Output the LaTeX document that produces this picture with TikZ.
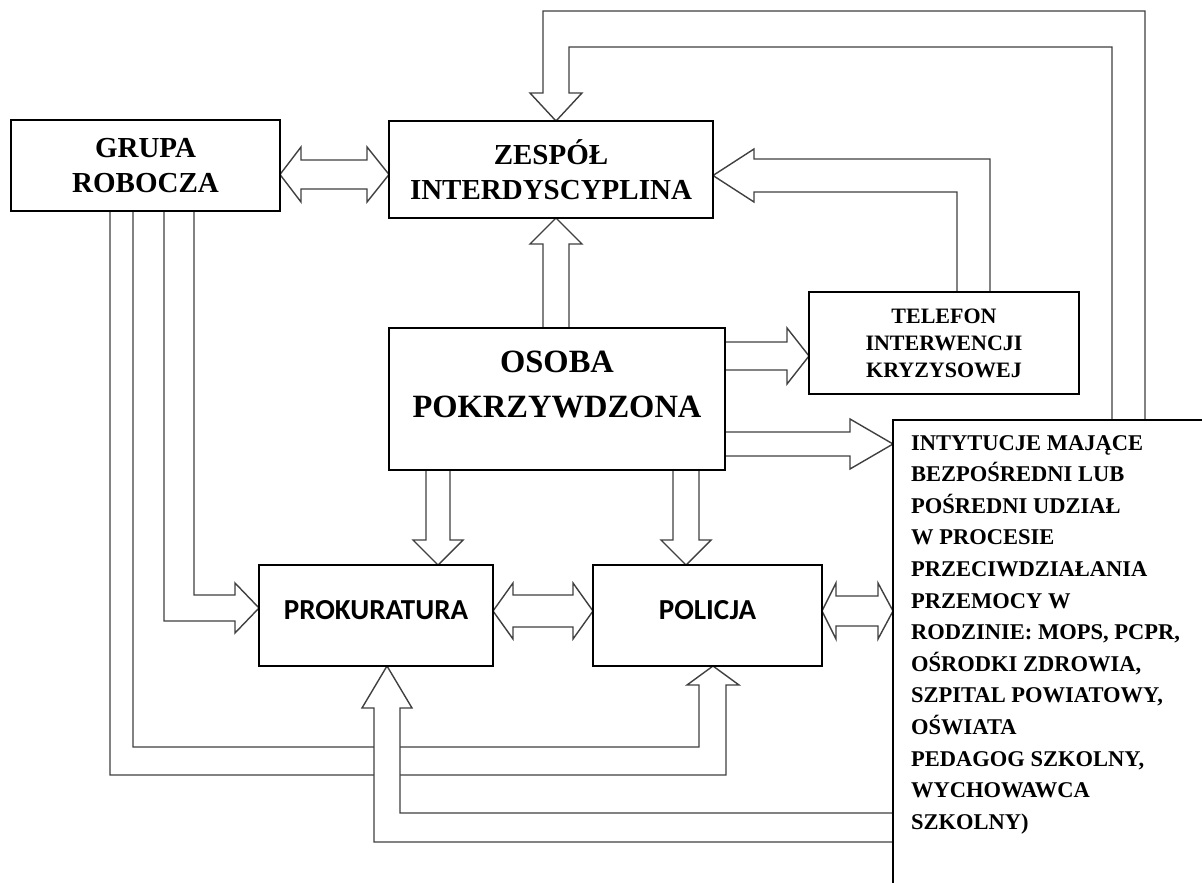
\documentclass[tikz,border=0pt]{standalone}
\usepackage{fontspec}
\setmainfont{Liberation Serif}
\newfontfamily\calibrifont{Carlito}
\usetikzlibrary{calc,backgrounds}
\tikzset{
	box/.style={draw=black, line width=1.6pt, fill=white, inner sep=0pt, outer sep=0pt, align=center},
	fat/.style={draw=black!75, line width=1.4pt, fill=white, line join=miter},
	serifbig/.style={font=\bfseries\fontsize{29}{34.5}\selectfont},
	serifhuge/.style={font=\bfseries\fontsize{32.5}{45}\selectfont, inner sep=0pt, align=center},
	serifsmall/.style={font=\bfseries\fontsize{22}{27}\selectfont},
	seriflist/.style={font=\bfseries\fontsize{22.5}{31.6}\selectfont, inner sep=0pt, align=left},
	sansbig/.style={font=\calibrifont\bfseries\fontsize{29}{34}\selectfont, text depth=11pt}
}

\begin{document}
\begin{tikzpicture}[x=1pt, y=-1pt]
			%%%%% START %%%%%
			\useasboundingbox (0,0) rectangle (1202,883);
			
			\node[box, serifbig, minimum width=269pt, minimum height=91pt] (grupa) at (145.5,165.5) {GRUPA\\ROBOCZA};
			\node[box, serifbig, minimum width=324pt, minimum height=97pt] (zespol) at (551,169.5) {ZESPÓŁ\\INTERDYSCYPLINA};
			\node[box, minimum width=336pt, minimum height=142pt] (osoba) at (557,399) {};
			\node[serifhuge] (osobatext) at ($(osoba.north)+(0,56)$) {OSOBA\\POKRZYWDZONA};
			\node[box, serifsmall, minimum width=270pt, minimum height=102pt] (telefon) at (944,343) {TELEFON\\INTERWENCJI\\KRYZYSOWEJ};
			
			\node[box, sansbig, minimum width=234pt, minimum height=101pt] (prok) at (376,615.5) {PROKURATURA};
			\node[box, sansbig, minimum width=229pt, minimum height=101pt] (policja) at (707.5,615.5) {POLICJA};
			
			\begin{scope}
				\clip (0,0) rectangle (1202,883);
				\node[box, anchor=north west, minimum width=400pt, minimum height=600pt] (inst) at (893,420) {};
			\end{scope}
			\node[seriflist, anchor=north west] (insttext) at ($(inst.north west)+(18,15)$) {INTYTUCJE MAJĄCE\\BEZPOŚREDNI LUB\\POŚREDNI UDZIAŁ\\W PROCESIE\\PRZECIWDZIAŁANIA\\PRZEMOCY W\\RODZINIE: MOPS, PCPR,\\OŚRODKI ZDROWIA,\\SZPITAL POWIATOWY,\\OŚWIATA\\PEDAGOG SZKOLNY,\\WYCHOWAWCA\\SZKOLNY)};
			
			\begin{scope}[on background layer]
				\fill[white] (0,0) rectangle (1202,883);
				
				% grupa <-> zespol
				\draw[fat] (grupa.east |- 0,174.5) -- (301,147) -- (301,160) -- (367,160) -- (367,147) -- (zespol.west |- 0,174.5) -- (367,202) -- (367,189) -- (301,189) -- (301,202) -- cycle;
				
				% instytucje -> zespol, over the top
				\draw[fat] (inst.north -| 1145,0) -- (1145,11) -- (543,11) -- (543,93) -- (530,93) -- (zespol.north -| 556,0) -- (582,93) -- (569,93) -- (569,47) -- (1112,47) -- (inst.north -| 1112,0) -- cycle;
				\draw[fat] (telefon.north -| 990,0) -- (990,159) -- (754,159) -- (754,149) -- (zespol.east |- 0,175.5) -- (754,202) -- (754,192) -- (957,192) -- (telefon.north -| 957,0) -- cycle;
				
				% out of osoba
				\draw[fat] (osoba.north -| 543,0) -- (543,244) -- (530,244) -- (zespol.south -| 556,0) -- (582,244) -- (569,244) -- (osoba.north -| 569,0) -- cycle;
				\draw[fat] (osoba.east |- 0,342) -- (787,342) -- (787,328) -- (telefon.west |- 0,356) -- (787,384) -- (787,370) -- (osoba.east |- 0,370) -- cycle;
				\draw[fat] (osoba.east |- 0,432) -- (850,432) -- (850,419) -- (inst.west |- 0,444) -- (850,469) -- (850,456) -- (osoba.east |- 0,456) -- cycle;
				\draw[fat] (osoba.south -| 426,0) -- (426,540) -- (413,540) -- (prok.north -| 438,0) -- (463,540) -- (450,540) -- (osoba.south -| 450,0) -- cycle;
				\draw[fat] (osoba.south -| 673,0) -- (673,540) -- (661,540) -- (policja.north -| 686,0) -- (711,540) -- (699,540) -- (osoba.south -| 699,0) -- cycle;
				
				% out of grupa
				\draw[fat] (grupa.south -| 194,0) -- (194,595) -- (235,595) -- (235,583) -- (prok.west |- 0,608) -- (235,633) -- (235,621) -- (164,621) -- (grupa.south -| 164,0) -- cycle;
				\draw[fat] (grupa.south -| 110,0) -- (110,775) -- (726,775) -- (726,685) -- (739,685) -- (policja.south -| 713,0) -- (687,685) -- (699,685) -- (699,747) -- (133,747) -- (grupa.south -| 133,0) -- cycle;
				
				% both ways
				\draw[fat] (prok.east |- 0,611) -- (513,583) -- (513,595) -- (573,595) -- (573,583) -- (policja.west |- 0,611) -- (573,639) -- (573,627) -- (513,627) -- (513,639) -- cycle;
				\draw[fat] (policja.east |- 0,611) -- (836,583) -- (836,596) -- (878,596) -- (878,583) -- (inst.west |- 0,611) -- (878,639) -- (878,626) -- (836,626) -- (836,639) -- cycle;
				
				% instytucje -> prokuratura, under the rest
				\draw[fat] (inst.west |- 0,842) -- (374,842) -- (374,708) -- (362,708) -- (prok.south -| 387,0) -- (412,708) -- (400,708) -- (400,813) -- (inst.west |- 0,813) -- cycle;
			\end{scope}
			
			%%%%% END %%%%%
\end{tikzpicture}
\end{document}
